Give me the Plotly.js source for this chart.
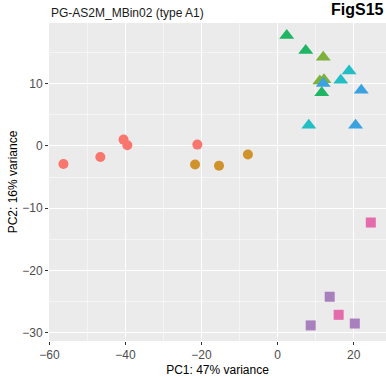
<!DOCTYPE html>
<html><head><meta charset="utf-8">
<script src="https://cdn.plot.ly/plotly-3.0.1.min.js"></script>
<style>html,body{margin:0;padding:0;background:#fff}</style>
</head><body><div id="chart" style="width:386px;height:377px"></div>
<script>
// Groups (colour + shape), PCA coordinates
const groupNames = ["G1","G2","G3","G4","G5","G6","G7","G8"];
const g1x = [-56.3,-46.6,-40.5,-39.5,-21.1], g1y = [-2.9,-1.8,1.0,0.1,0.2];
const g2x = [-21.7,-15.4,-7.8],            g2y = [-3.0,-3.2,-1.4];
const g3x = [2.4,7.4,11.6],                g3y = [17.7,15.3,8.5];
const g4x = [12.0,11.1,12.2],              g4y = [14.2,10.4,10.6];
const g5x = [18.8,16.6,8.2],               g5y = [12.0,10.5,3.3];
const g6x = [12.0,22.0,20.5],              g6y = [10.0,8.9,3.3];
const g7x = [24.5,16.05],                  g7y = [-12.3,-27.1];
const g8x = [13.7,8.7,20.3],               g8y = [-24.2,-28.8,-28.5];
const xTicks = [-60,-40,-20,0,20];
const yTicks = [-30,-20,-10,0,10];

const colors = ["#F8766D","#D0922A","#1FB562","#7DB13A","#22BEC4","#3BA2E2","#E46BAC","#A880BE"];
const symbols = ["circle","circle","triangle-up","triangle-up","triangle-up","triangle-up","square","square"];
const sizes = [10,10,13,13,13,13,10,10];
const xs = [g1x,g2x,g3x,g4x,g5x,g6x,g7x,g8x];
const ys = [g1y,g2y,g3y,g4y,g5y,g6y,g7y,g8y];

const traces = xs.map((x,i)=>({
  type:"scatter", mode:"markers", name:groupNames[i], x:x, y:ys[i],
  marker:{color:colors[i], symbol:symbols[i], size:sizes[i], line:{width:0}},
  showlegend:false, hoverinfo:"x+y"
}));

const font = {family:"Liberation Sans, Arial, sans-serif"};
const layout = {
  width:386, height:377,
  margin:{l:49,r:0,t:23,b:36},
  paper_bgcolor:"#ffffff", plot_bgcolor:"#EBEBEB",
  font:font,
  xaxis:{range:[-60.1,28.5], tickvals:xTicks, ticktext:xTicks.map(v=>v<0?"\u2212"+(-v):String(v)),
    showgrid:true, gridcolor:"#ffffff", gridwidth:1.1, zeroline:false,
    minor:{dtick:10, tick0:0, showgrid:true, gridcolor:"#ffffff", gridwidth:0.5, ticks:""},
    ticks:"outside", ticklen:3, tickwidth:1.1, tickcolor:"#333333",
    tickfont:{size:12, color:"#4D4D4D"},
    title:{text:"PC1: 47% variance", font:{size:12,color:"#000"}, standoff:4},
    showline:false, fixedrange:true},
  yaxis:{range:[-31.3,19.7], tickvals:yTicks, ticktext:yTicks.map(v=>v<0?"\u2212"+(-v):String(v)),
    showgrid:true, gridcolor:"#ffffff", gridwidth:1.1, zeroline:false,
    minor:{dtick:5, tick0:0, showgrid:true, gridcolor:"#ffffff", gridwidth:0.5, ticks:""},
    ticks:"outside", ticklen:3, tickwidth:1.1, tickcolor:"#333333",
    tickfont:{size:12, color:"#4D4D4D"},
    title:{text:"PC2: 16% variance", font:{size:12,color:"#000"}, standoff:2},
    showline:false, fixedrange:true},
  annotations:[
    {text:"PG-AS2M_MBin02 (type A1)", xref:"paper", yref:"paper", x:0, y:1, xanchor:"left", yanchor:"bottom",
     yshift:1, showarrow:false, font:{size:12,color:"#1A1A1A"}},
    {text:"<b>FigS15</b>", xref:"paper", yref:"paper", x:1, y:1, xanchor:"right", yanchor:"bottom",
     yshift:3, showarrow:false, font:{size:16,color:"#000"}}
  ]
};
Plotly.newPlot("chart", traces, layout, {displayModeBar:false, staticPlot:true});
</script></body></html>
